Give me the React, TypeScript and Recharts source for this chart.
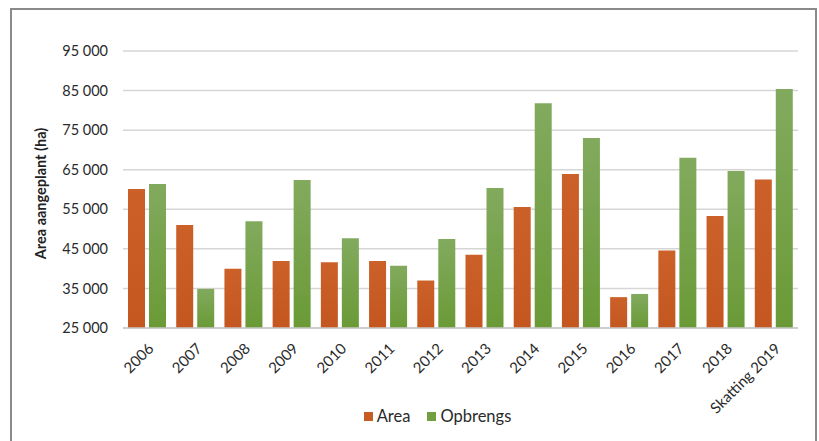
import React from "react";
import { BarChart, Bar, XAxis, YAxis, CartesianGrid, Legend } from "recharts";

const categories = ["2006", "2007", "2008", "2009", "2010", "2011", "2012", "2013", "2014", "2015", "2016", "2017", "2018", "Skatting 2019"];
const areaValues = [60100, 51000, 40000, 41900, 41600, 41900, 37000, 43500, 55600, 63900, 32800, 44600, 53300, 62500];
const opbrengsValues = [61400, 34900, 52000, 62400, 47700, 40700, 47500, 60400, 81800, 73000, 33600, 68000, 64700, 85400];
const yTicks = [25000, 35000, 45000, 55000, 65000, 75000, 85000, 95000];

const data = categories.map((c, i) => ({ name: c, Area: areaValues[i], Opbrengs: opbrengsValues[i] }));

const FONT = "Lato, 'Noto Sans', sans-serif";
const ORANGE = "#c85c25";
const GREEN = "#72a040";
const legendColors: Record<string, string> = { Area: ORANGE, Opbrengs: GREEN };

const fmt = (v: number) => {
  const s = String(v);
  return s.length > 3 ? s.slice(0, s.length - 3) + " " + s.slice(-3) : s;
};

const XTick = (props: any) => {
  const { x, y, payload } = props;
  return (
    <g transform={`translate(${x},${y})`}>
      <text x={0} y={0} dy="0.71em" textAnchor="end" transform="rotate(-45)" fill="#2a2a2a" fontSize={15} fontFamily={FONT}>
        {payload.value}
      </text>
    </g>
  );
};

const LegendContent = (props: any) => {
  const { payload } = props;
  return (
    <div style={{ display: "flex", justifyContent: "center", alignItems: "center", fontFamily: FONT, fontSize: 16.5, color: "#2a2a2a" }}>
      {payload.map((p: any, i: number) => (
        <div key={i} style={{ display: "flex", alignItems: "center", marginLeft: i === 0 ? 0 : 17 }}>
          <span style={{ width: 9, height: 9, background: legendColors[p.value] || GREEN, display: "inline-block", marginRight: 4 }} />
          <span>{p.value}</span>
        </div>
      ))}
    </div>
  );
};

export default function App() {
  return (
    <div style={{ position: "absolute", left: 0, top: 0, width: 819, height: 441, overflow: "hidden", background: "#fff" }}>
      <div style={{ position: "absolute", left: 10, top: 8, width: 807, height: 500, border: "2px solid #8a8a8a", boxSizing: "border-box" }} />
      <div style={{ position: "absolute", left: 0, top: 0 }}>
        <BarChart width={819} height={441} data={data} margin={{ top: 51, right: 21, left: 0, bottom: 33 }} barSize={17} barGap={4}>
          <defs>
            <linearGradient id="gGreen" x1="0" y1="0" x2="0" y2="1">
              <stop offset="0%" stopColor="#82aa5e" />
              <stop offset="100%" stopColor="#6a9a36" />
            </linearGradient>
            <linearGradient id="gOrange" x1="0" y1="0" x2="0" y2="1">
              <stop offset="0%" stopColor="#cc6029" />
              <stop offset="100%" stopColor="#c45720" />
            </linearGradient>
          </defs>
          <CartesianGrid vertical={false} stroke="#d6d6d6" strokeWidth={1.5} />
          <XAxis dataKey="name" interval={0} height={80} tickSize={0} tickMargin={14} tick={<XTick />} axisLine={{ stroke: "#c8c8c8", strokeWidth: 1.5 }} tickLine={false} />
          <YAxis
            domain={[25000, 95000]}
            ticks={yTicks}
            width={123}
            tickSize={0}
            tickMargin={15}
            axisLine={false}
            tickLine={false}
            tickFormatter={fmt}
            tick={{ fill: "#2a2a2a", fontSize: 14.5, fontFamily: FONT }}
            label={{
              content: (p: any) => {
                const vb = p.viewBox;
                const cx = vb.x + 40;
                const cy = vb.y + vb.height / 2 + 4;
                return (
                  <text x={cx} y={cy} transform={`rotate(-90, ${cx}, ${cy})`} textAnchor="middle" dominantBaseline="central" fontWeight="bold" fontSize={14.5} fontFamily={FONT} fill="#222">
                    Area aangeplant (ha)
                  </text>
                );
              },
            }}
          />
          <Legend verticalAlign="middle" align="center" wrapperStyle={{ top: 406, left: 28, width: 819 }} content={<LegendContent />} />
          <Bar dataKey="Area" name="Area" fill="url(#gOrange)" legendType="square" isAnimationActive={false} />
          <Bar dataKey="Opbrengs" name="Opbrengs" fill="url(#gGreen)" legendType="square" isAnimationActive={false} />
        </BarChart>
      </div>
    </div>
  );
}
